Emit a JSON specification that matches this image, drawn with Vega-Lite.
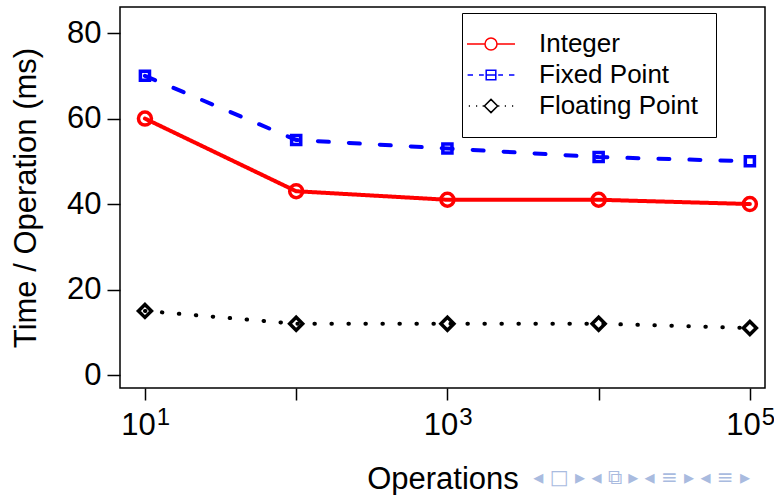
{
  "$schema": "https://vega.github.io/schema/vega-lite/v6.json",
  "width": 645,
  "height": 381,
  "autosize": "none",
  "padding": {"left": 120, "top": 7, "right": 9, "bottom": 107},
  "background": "white",
  "config": {
    "view": {"stroke": "black", "strokeWidth": 1.5},
    "font": "Liberation Sans",
    "axis": {"labelFont": "Liberation Sans", "titleFont": "Liberation Sans", "labelColor": "black", "titleColor": "black", "tickColor": "black", "titleFontWeight": "normal", "grid": false, "domain": false},
    "legend": {"title": null, "orient": "none", "legendX": 342, "legendY": 6, "padding": 18, "strokeColor": "black", "fillColor": "white", "labelFontSize": 26, "labelFont": "Liberation Sans", "labelColor": "black", "rowPadding": 5, "symbolOffset": -2, "labelOffset": 35, "symbolSize": 144, "symbolStrokeWidth": 1.5, "symbolOpacity": 1}
  },
  "title": {"text": "◂ □ ▸   ◂ ⧉ ▸   ◂ ≡ ▸   ◂ ≡ ▸", "orient": "bottom", "anchor": "end", "frame": "group", "color": "#a9bbdf", "fontSize": 20, "font": "DejaVu Sans", "fontWeight": "normal", "offset": -26, "dx": -15},
  "data": {"values": [
    {"ops": 10, "series": "Integer", "time": 60},
    {"ops": 100, "series": "Integer", "time": 43},
    {"ops": 1000, "series": "Integer", "time": 41},
    {"ops": 10000, "series": "Integer", "time": 41},
    {"ops": 100000, "series": "Integer", "time": 40},
    {"ops": 10, "series": "Fixed Point", "time": 70},
    {"ops": 100, "series": "Fixed Point", "time": 55},
    {"ops": 1000, "series": "Fixed Point", "time": 53},
    {"ops": 10000, "series": "Fixed Point", "time": 51},
    {"ops": 100000, "series": "Fixed Point", "time": 50},
    {"ops": 10, "series": "Floating Point", "time": 15},
    {"ops": 100, "series": "Floating Point", "time": 12},
    {"ops": 1000, "series": "Floating Point", "time": 12},
    {"ops": 10000, "series": "Floating Point", "time": 12},
    {"ops": 100000, "series": "Floating Point", "time": 11}
  ]},
  "layer": [
    {
      "mark": {"type": "point", "filled": false, "strokeWidth": 1.5, "size": 144, "opacity": 0},
      "encoding": {
        "x": {"field": "ops", "type": "quantitative", "scale": {"type": "log", "domain": [6.84, 125900], "nice": false},
          "axis": {"orient": "bottom", "values": [10, 1000, 100000], "ticks": false, "tickSize": 0, "labelExpr": "datum.value==10 ? '1' : datum.value==1000 ? '3' : '5'", "labelFontSize": 24, "labelOffset": 18, "labelPadding": 17, "labelOverlap": false, "labelFlush": false, "labelBound": false, "title": null}},
        "y": {"field": "time", "type": "quantitative", "scale": {"domain": [-3.04, 86.1], "nice": false, "zero": false},
          "axis": {"values": [0, 20, 40, 60, 80], "tickSize": 13, "tickWidth": 1.5, "labelFontSize": 31, "labelPadding": 6, "title": "Time / Operation (ms)", "titleFontSize": 31, "titlePadding": 24}},
        "color": {"field": "series", "type": "nominal", "scale": {"domain": ["Integer", "Fixed Point", "Floating Point"], "range": ["#ff0000", "#0000ff", "#000000"]}, "legend": {}},
        "shape": {"field": "series", "type": "nominal", "scale": {"domain": ["Integer", "Fixed Point", "Floating Point"], "range": ["M-4,0H-1M1,0H4M-1,0A1,1,0,1,0,1,0A1,1,0,1,0,-1,0", "M-3.9,0H-3M-2,0H-1.2M-0.8,-0.8H0.8V0.8H-0.8ZM-0.8,0H0.8M1.2,0H2M3,0H3.9", "M-3.7,0H-3.5M-2.5,0H-2.3M-1.4,0H-1.2M0,-1.1L1.1,0L0,1.1L-1.1,0ZM1.2,0H1.4M2.3,0H2.5M3.5,0H3.7"]}, "legend": {}}
      }
    },
    {
      "mark": {"type": "line", "strokeWidth": 4, "strokeCap": "round"},
      "encoding": {
        "x": {"field": "ops", "type": "quantitative", "scale": {"type": "log", "domain": [6.84, 125900], "nice": false},
          "axis": {"orient": "bottom", "values": [10, 100, 1000, 10000, 100000], "tickSize": 12, "tickWidth": 1.5, "labelExpr": "datum.value==10||datum.value==1000||datum.value==100000 ? '10' : ''", "labelFontSize": 31, "labelPadding": 10, "labelOffset": -7, "labelOverlap": false, "labelFlush": false, "labelBound": false, "title": "Operations", "titleFontSize": 31, "titlePadding": 24}},
        "y": {"field": "time", "type": "quantitative", "scale": {"domain": [-3.04, 86.1], "nice": false, "zero": false},
          "axis": {"values": [0, 20, 40, 60, 80], "tickSize": 13, "tickWidth": 1.5, "labelFontSize": 31, "labelPadding": 6, "title": "Time / Operation (ms)", "titleFontSize": 31, "titlePadding": 24}},
        "stroke": {"field": "series", "type": "nominal", "scale": {"domain": ["Fixed Point", "Integer", "Floating Point"], "range": ["#0000ff", "#ff0000", "#000000"]}, "legend": null},
        "strokeDash": {"field": "series", "type": "nominal", "scale": {"domain": ["Fixed Point", "Floating Point", "Integer"], "range": [[11, 20], [0.5, 16.5], [1, 0]]}, "legend": null}
      }
    },
    {
      "transform": [{"filter": "datum.series === 'Integer'"}],
      "mark": {"type": "point", "shape": "circle", "filled": false, "strokeWidth": 3.5, "size": 169, "opacity": 1},
      "encoding": {
        "x": {"field": "ops", "type": "quantitative", "scale": {"type": "log", "domain": [6.84, 125900], "nice": false}, "axis": null},
        "y": {"field": "time", "type": "quantitative", "scale": {"domain": [-3.04, 86.1], "nice": false, "zero": false},
          "axis": {"values": [0, 20, 40, 60, 80], "tickSize": 13, "tickWidth": 1.5, "labelFontSize": 31, "labelPadding": 6, "title": "Time / Operation (ms)", "titleFontSize": 31, "titlePadding": 24}},
        "stroke": {"field": "series", "type": "nominal", "scale": {"domain": ["Fixed Point", "Integer", "Floating Point"], "range": ["#0000ff", "#ff0000", "#000000"]}, "legend": null}
      }
    },
    {
      "transform": [{"filter": "datum.series === 'Fixed Point'"}],
      "mark": {"type": "point", "shape": "M-0.7,-0.7H0.7V0.7H-0.7Z", "filled": false, "strokeWidth": 3.5, "size": 169, "opacity": 1},
      "encoding": {
        "x": {"field": "ops", "type": "quantitative", "scale": {"type": "log", "domain": [6.84, 125900], "nice": false}, "axis": null},
        "y": {"field": "time", "type": "quantitative", "scale": {"domain": [-3.04, 86.1], "nice": false, "zero": false},
          "axis": {"values": [0, 20, 40, 60, 80], "tickSize": 13, "tickWidth": 1.5, "labelFontSize": 31, "labelPadding": 6, "title": "Time / Operation (ms)", "titleFontSize": 31, "titlePadding": 24}},
        "stroke": {"field": "series", "type": "nominal", "scale": {"domain": ["Fixed Point", "Integer", "Floating Point"], "range": ["#0000ff", "#ff0000", "#000000"]}, "legend": null}
      }
    },
    {
      "transform": [{"filter": "datum.series === 'Floating Point'"}],
      "mark": {"type": "point", "shape": "diamond", "filled": false, "strokeWidth": 3.5, "size": 169, "opacity": 1},
      "encoding": {
        "x": {"field": "ops", "type": "quantitative", "scale": {"type": "log", "domain": [6.84, 125900], "nice": false}, "axis": null},
        "y": {"field": "time", "type": "quantitative", "scale": {"domain": [-3.04, 86.1], "nice": false, "zero": false},
          "axis": {"values": [0, 20, 40, 60, 80], "tickSize": 13, "tickWidth": 1.5, "labelFontSize": 31, "labelPadding": 6, "title": "Time / Operation (ms)", "titleFontSize": 31, "titlePadding": 24}},
        "stroke": {"field": "series", "type": "nominal", "scale": {"domain": ["Fixed Point", "Integer", "Floating Point"], "range": ["#0000ff", "#ff0000", "#000000"]}, "legend": null}
      }
    }
  ],
  "resolve": {"axis": {"x": "independent"}}
}
